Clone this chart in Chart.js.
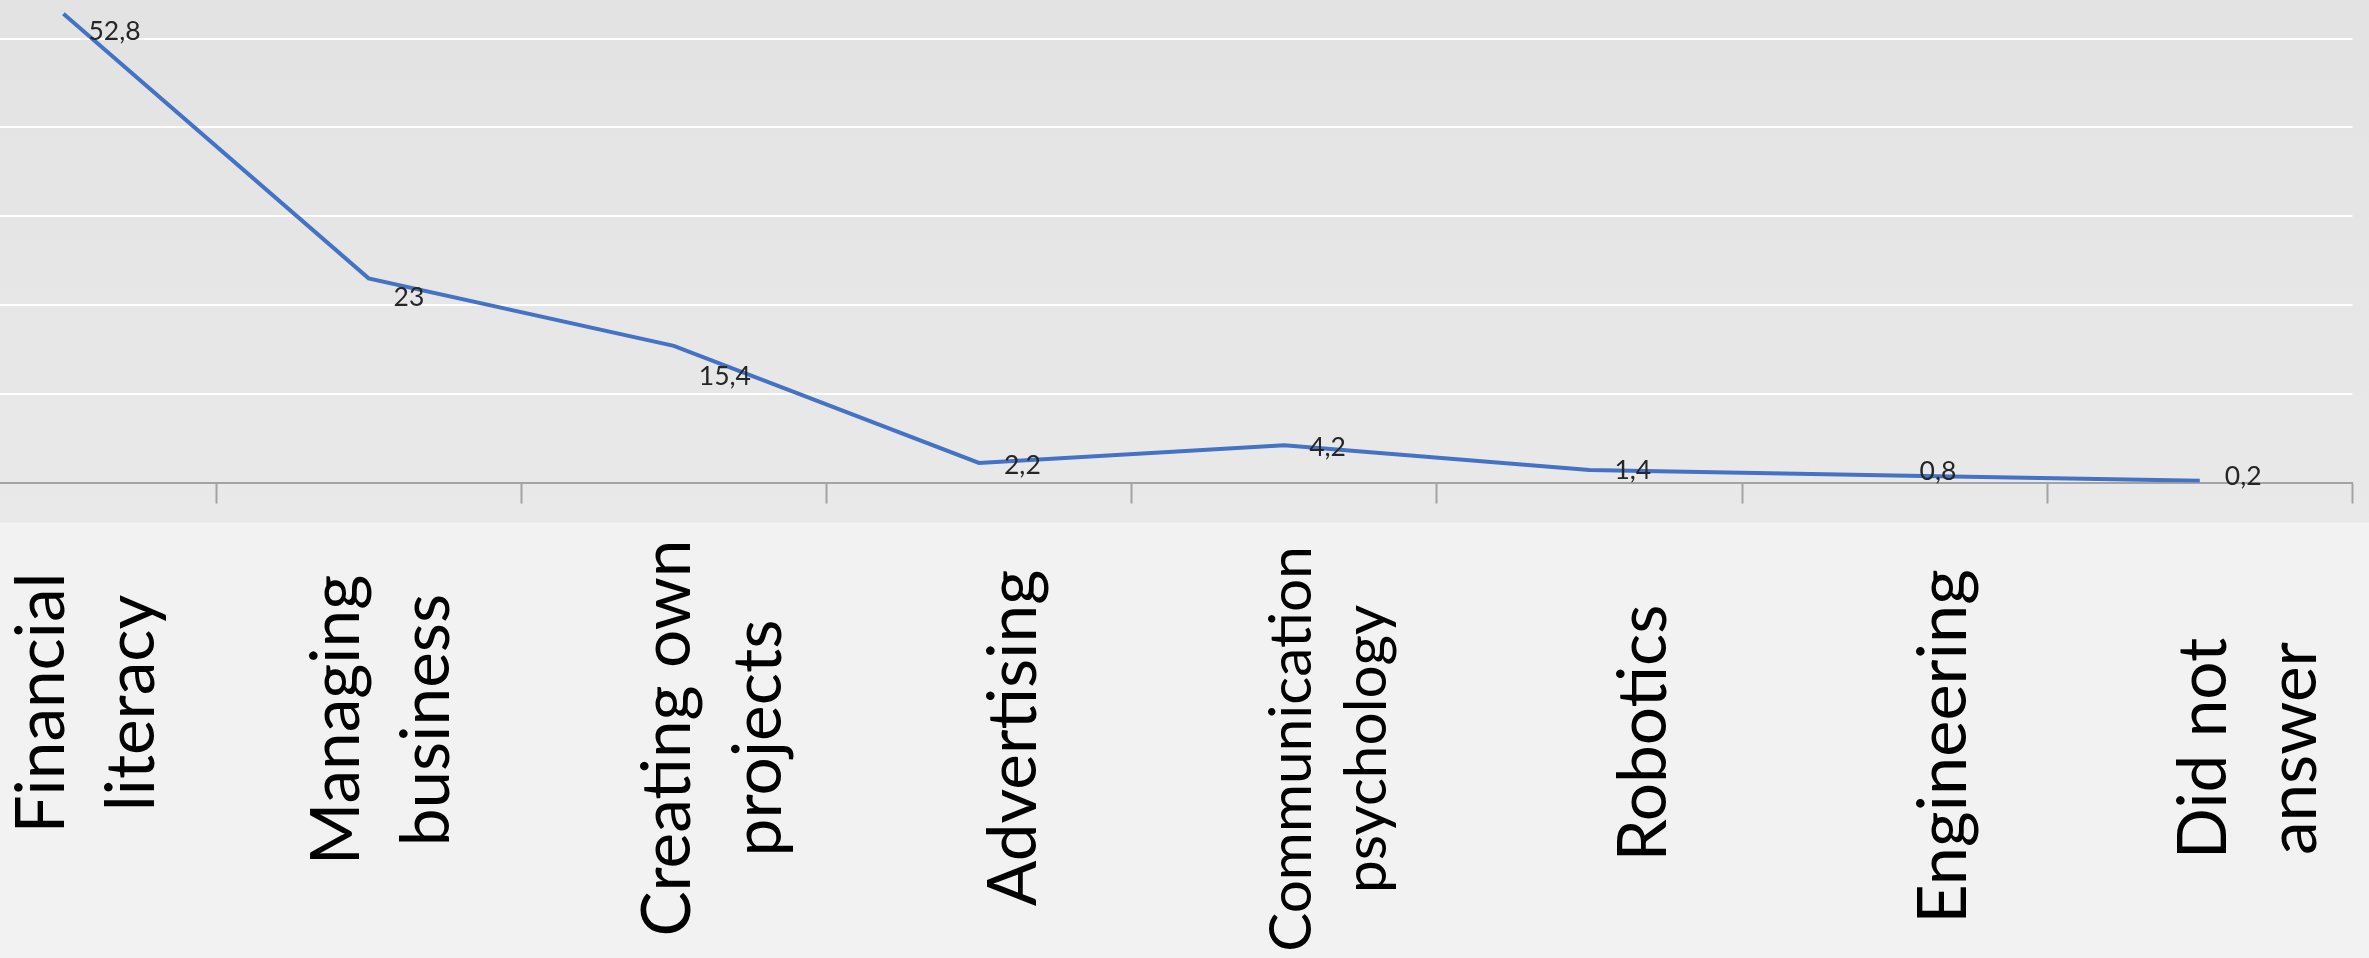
<!DOCTYPE html>
<html>
<head>
<meta charset="utf-8">
<title>Topics</title>
<script src="https://cdn.jsdelivr.net/npm/chart.js"></script>
<style>
    body { margin: 0; background: #f2f2f2; }
    #wrap { position: relative; width: 2369px; height: 958px; overflow: hidden; background: #f2f2f2; }
    #topicChart { position: absolute; left: -100px; top: -60px; }
</style>
</head>
<body>
<div id="wrap">
    <canvas id="topicChart" width="2469" height="1018"></canvas>
</div>
<script>
// categories (each entry = lines of the rotated label)
const topics = [
    ['Financial', 'literacy'],
    ['Managing', 'business'],
    ['Creating own', 'projects'],
    ['Advertising'],
    ['Communication', 'psychology'],
    ['Robotics'],
    ['Engineering'],
    ['Did not', 'answer']
];
// share of answers, %
const shares = [52.8, 23, 15.4, 2.2, 4.2, 1.4, 0.8, 0.2];
// value axis
const yMin = 0;
const yMax = 60;
const yStep = 10;

// plot background + lighter strip under it
const backdrop = {
    id: 'backdrop',
    beforeDraw(chart) {
        const { ctx, chartArea } = chart;
        const bandEnd = chartArea.bottom + 40;
        ctx.save();
        ctx.fillStyle = '#f2f2f2';
        ctx.fillRect(0, 0, chart.width, chart.height);
        const g = ctx.createLinearGradient(0, 0, 0, bandEnd);
        g.addColorStop(0, '#e2e2e2');
        g.addColorStop(1, '#e9e9e9');
        ctx.fillStyle = g;
        ctx.fillRect(0, 0, chart.width, bandEnd);
        ctx.restore();
    }
};

// value labels next to each point + big rotated category labels
const labelsPlugin = {
    id: 'labelsPlugin',
    afterDatasetsDraw(chart, args, opts) {
        const { ctx, chartArea } = chart;
        const xScale = chart.scales.x;
        const meta = chart.getDatasetMeta(0);
        ctx.save();

        // data labels
        ctx.font = opts.valueFont;
        ctx.fillStyle = '#262626';
        ctx.textAlign = 'left';
        ctx.textBaseline = 'middle';
        meta.data.forEach((pt, i) => {
            const txt = String(shares[i]).replace('.', ',');
            ctx.fillText(txt, pt.x + opts.valueDx, pt.y + opts.valueDy[i]);
        });

        // category labels, read bottom to top
        ctx.fillStyle = '#000000';
        ctx.textAlign = 'center';
        ctx.textBaseline = 'alphabetic';
        topics.forEach((lines, i) => {
            const x0 = xScale.getPixelForValue(i) + opts.catShift[i];
            const midY = chartArea.bottom + opts.catMid[i];
            ctx.font = opts.catSize[i] + 'px Lato';
            lines.forEach((line, j) => {
                ctx.save();
                ctx.translate(x0 + j * opts.catPitch[i], midY);
                ctx.rotate(-Math.PI / 2);
                ctx.fillText(line, 0, 0);
                ctx.restore();
            });
        });
        ctx.restore();
    }
};

const ctx = document.getElementById('topicChart').getContext('2d');

new Chart(ctx, {
    type: 'line',
    data: {
        labels: topics,
        datasets: [{
            label: 'Share',
            data: shares,
            borderColor: '#4472c4',
            borderWidth: 4,
            pointRadius: 0,
            tension: 0,
            fill: false
        }]
    },
    options: {
        responsive: false,
        animation: false,
        devicePixelRatio: 1,
        layout: {
            padding: { left: 10.8, right: 16.6, top: 9.9, bottom: 454.5 }
        },
        scales: {
            x: {
                type: 'category',
                offset: true,
                grid: {
                    offset: true,
                    drawOnChartArea: false,
                    drawTicks: true,
                    tickLength: 21,
                    tickColor: '#a3a3a3',
                    tickWidth: 2
                },
                border: { display: true, color: '#a3a3a3', width: 2 },
                ticks: { display: false }
            },
            y: {
                min: yMin,
                max: yMax,
                ticks: { stepSize: yStep, display: false },
                grid: { color: '#ffffff', lineWidth: 2, drawTicks: false },
                border: { display: false }
            }
        },
        plugins: {
            legend: { display: false },
            tooltip: { enabled: false },
            labelsPlugin: {
                valueFont: '26.5px Lato',
                valueDx: 25,
                valueDy: [18, 19, 31, 2, 2, 0, -4, -4],
                catMid: [220.5, 237.5, 255.5, 255.5, 266.5, 250.5, 264, 266],
                catSize: [67.5, 67.5, 67.5, 67.5, 58.5, 67.5, 68.5, 67.5],
                catShift: [0.8, -9.4, 16.1, 56.9, 26.7, 76.5, 71.3, 26.1],
                catPitch: [90, 90, 91, 0, 75, 0, 0, 90]
            }
        }
    },
    plugins: [backdrop, labelsPlugin]
});
</script>
</body>
</html>
